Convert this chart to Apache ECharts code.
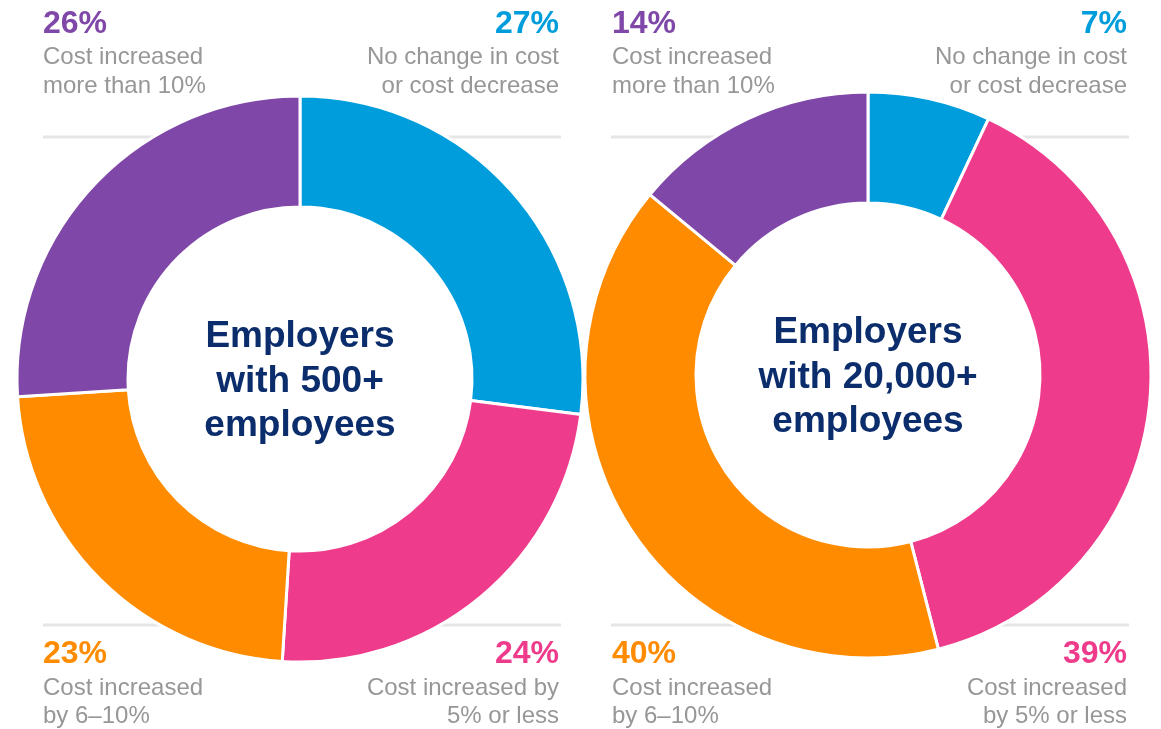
<!DOCTYPE html>
<html>
<head>
<meta charset="utf-8">
<script src="https://cdn.jsdelivr.net/npm/echarts@6/dist/echarts.min.js"></script>
<style>
  html, body { margin: 0; padding: 0; background: #ffffff; }
  #chart { width: 1161px; height: 729px; }
</style>
</head>
<body>
<div id="chart"></div>
<script>
// Slice order: clockwise from 12 o'clock
const categories = [
  'No change in cost or cost decrease',
  'Cost increased by 5% or less',
  'Cost increased by 6–10%',
  'Cost increased more than 10%'
];
const sliceColors = ['#009ddc', '#ee3b8b', '#ff8c00', '#7f48a8'];

const employers500 = [27, 24, 23, 26];
const employers20000 = [7, 39, 40, 14];

const centerTitle500 = ['Employers', 'with 500+', 'employees'];
const centerTitle20000 = ['Employers', 'with 20,000+', 'employees'];

const captions500 = [
  ['No change in cost', 'or cost decrease'],
  ['Cost increased by', '5% or less'],
  ['Cost increased', 'by 6–10%'],
  ['Cost increased', 'more than 10%']
];
const captions20000 = [
  ['No change in cost', 'or cost decrease'],
  ['Cost increased', 'by 5% or less'],
  ['Cost increased', 'by 6–10%'],
  ['Cost increased', 'more than 10%']
];

const FONT = '"Liberation Sans", Arial, Helvetica, sans-serif';

// Panel geometry (pixels)
const panels = [
  { values: employers500, title: centerTitle500, captions: captions500, cx: 300, cy: 379, left: 43, right: 559, lineL: 43, lineR: 561 },
  { values: employers20000, title: centerTitle20000, captions: captions20000, cx: 868, cy: 375, left: 612, right: 1127, lineL: 611, lineR: 1129 }
];

// Corner placement for each slice: [horizontal side, vertical side]
const corners = [['right', 'top'], ['right', 'bottom'], ['left', 'bottom'], ['left', 'top']];

function text(x, y, str, size, color, weight, align) {
  return {
    type: 'text', z: 20, silent: true,
    style: {
      x: x, y: y, text: str,
      font: weight + ' ' + size + 'px ' + FONT,
      fill: color, align: align, verticalAlign: 'middle'
    }
  };
}

const graphics = [];
const series = [];

panels.forEach(function (p) {
  // separator rules behind the ring
  [137, 625].forEach(function (y) {
    graphics.push({
      type: 'line', z: 0, silent: true,
      shape: { x1: p.lineL, y1: y, x2: p.lineR, y2: y },
      style: { stroke: '#e6e6e6', lineWidth: 3 }
    });
  });

  series.push({
    type: 'pie',
    z: 5,
    center: [p.cx, p.cy],
    radius: [172, 283],
    startAngle: 90,
    clockwise: true,
    silent: true,
    animation: false,
    label: { show: false },
    labelLine: { show: false },
    itemStyle: { borderColor: '#ffffff', borderWidth: 3 },
    data: p.values.map(function (v, i) {
      return { name: categories[i], value: v, itemStyle: { color: sliceColors[i] } };
    })
  });

  // center title
  const offsets = [-42, 3, 47];
  p.title.forEach(function (line, li) {
    graphics.push(text(p.cx, p.cy + offsets[li], line, 37, '#0b2d6c', 'bold', 'center'));
  });

  // corner value + caption
  p.values.forEach(function (v, i) {
    const side = corners[i][0], vert = corners[i][1];
    const x = side === 'left' ? p.left : p.right;
    const ys = vert === 'top' ? [24, 57.6, 86.6] : [654, 688.6, 716.6];
    graphics.push(text(x, ys[0], v + '%', 32, sliceColors[i], 'bold', side));
    graphics.push(text(x, ys[1], p.captions[i][0], 24, '#979797', 'normal', side));
    graphics.push(text(x, ys[2], p.captions[i][1], 24, '#979797', 'normal', side));
  });
});

const chart = echarts.init(document.getElementById('chart'), null, { renderer: 'canvas' });
chart.setOption({
  backgroundColor: '#ffffff',
  animation: false,
  series: series,
  graphic: { elements: graphics }
});
</script>
</body>
</html>
